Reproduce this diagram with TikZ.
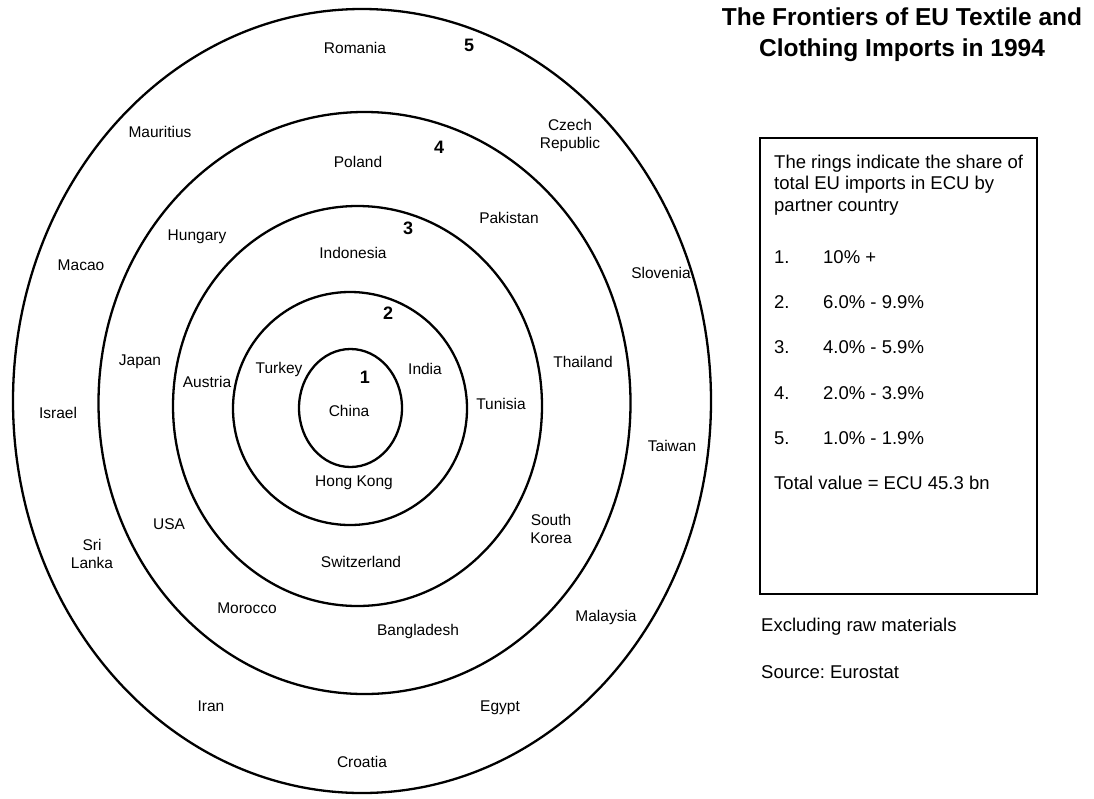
\documentclass[tikz,border=0pt]{standalone}
\usepackage{fontspec}
\setmainfont{Liberation Sans}
\frenchspacing
\begin{document}
\begin{tikzpicture}[x=1pt,y=-1pt,
  ring/.style={line width=2.3pt},
  lab/.style={font=\fontsize{15.5}{18}\selectfont, align=center, inner sep=0pt},
  num/.style={font=\bfseries\fontsize{18}{20}\selectfont, inner sep=0pt},
  legtxt/.style={font=\fontsize{18.5}{22}\selectfont, inner sep=0pt, anchor=west},
  ttl/.style={font=\bfseries\fontsize{24.5}{31}\selectfont, align=center, inner sep=0pt},
  legbox/.style={draw, line width=1.3pt}]
\useasboundingbox (0,0) rectangle (1094,798);
% rings
\draw[ring] (362,401) ellipse [x radius=349, y radius=392];
\draw[ring] (364.5,403) ellipse [x radius=266, y radius=291];
\draw[ring] (357.5,406) ellipse [x radius=184.5, y radius=200];
\draw[ring] (350,408.5) ellipse [x radius=117, y radius=116.5];
\draw[ring] (350.5,408) ellipse [x radius=51.5, y radius=59];
% ring numbers
\node[num] (n5) at (469,45) {5};
\node[num] (n4) at (439,147) {4};
\node[num] (n3) at (408,228) {3};
\node[num] (n2) at (388,313) {2};
\node[num] (n1) at (365,377) {1};
% countries
\node[lab] (romania) at (355,48) {Romania};
\node[lab] (mauritius) at (160,132) {Mauritius};
\node[lab] (czech) at (570,135) {Czech\\Republic};
\node[lab] (poland) at (358,162) {Poland};
\node[lab] (pakistan) at (509,218) {Pakistan};
\node[lab] (hungary) at (197,237) {Hungary};
\node[lab] (indonesia) at (353,253) {Indonesia};
\node[lab] (macao) at (81,265) {Macao};
\node[lab] (slovenia) at (661,273) {Slovenia};
\node[lab] (japan) at (140,362) {Japan};
\node[lab] (austria) at (207,382) {Austria};
\node[lab] (turkey) at (279,369) {Turkey};
\node[lab] (india) at (425,369) {India};
\node[lab] (thailand) at (583,362) {Thailand};
\node[lab] (israel) at (58,413) {Israel};
\node[lab] (china) at (349,411) {China};
\node[lab] (tunisia) at (501,404) {Tunisia};
\node[lab] (taiwan) at (672,446) {Taiwan};
\node[lab] (hongkong) at (354,483) {Hong Kong};
\node[lab] (usa) at (169,524) {USA};
\node[lab] (srilanka) at (92,554) {Sri\\Lanka};
\node[lab] (skorea) at (551,529) {South\\Korea};
\node[lab] (switzerland) at (361,562) {Switzerland};
\node[lab] (morocco) at (247,608) {Morocco};
\node[lab] (malaysia) at (606,617) {Malaysia};
\node[lab] (bangladesh) at (418,631) {Bangladesh};
\node[lab] (iran) at (211,706) {Iran};
\node[lab] (egypt) at (500,708) {Egypt};
\node[lab] (croatia) at (362,762) {Croatia};
% title
\node[ttl] (title) at (902,35) {The Frontiers of EU Textile and\\Clothing Imports in 1994};
% legend box
\node[legbox, minimum width=277pt, minimum height=456pt, inner sep=0pt] (box) at (898.5,366) {};
\node[legtxt, align=left, font=\fontsize{18.5}{21.5}\selectfont] (intro) at (774,185) {The rings indicate the share of\\total EU imports in ECU by\\partner country};
\node[legtxt] (k1) at (774,257) {1.};
\node[legtxt] (v1) at (823,257) {10\% +};
\node[legtxt] (k2) at (774,302) {2.};
\node[legtxt] (v2) at (823,302) {6.0\% - 9.9\%};
\node[legtxt] (k3) at (774,347) {3.};
\node[legtxt] (v3) at (823,347) {4.0\% - 5.9\%};
\node[legtxt] (k4) at (774,393) {4.};
\node[legtxt] (v4) at (823,393) {2.0\% - 3.9\%};
\node[legtxt] (k5) at (774,438) {5.};
\node[legtxt] (v5) at (823,438) {1.0\% - 1.9\%};
\node[legtxt] (total) at (774,483) {Total value = ECU 45.3 bn};
\node[legtxt] (excl) at (761,627) {Excluding raw materials};
\node[legtxt] (source) at (761,672) {Source: Eurostat};
\end{tikzpicture}
\end{document}
